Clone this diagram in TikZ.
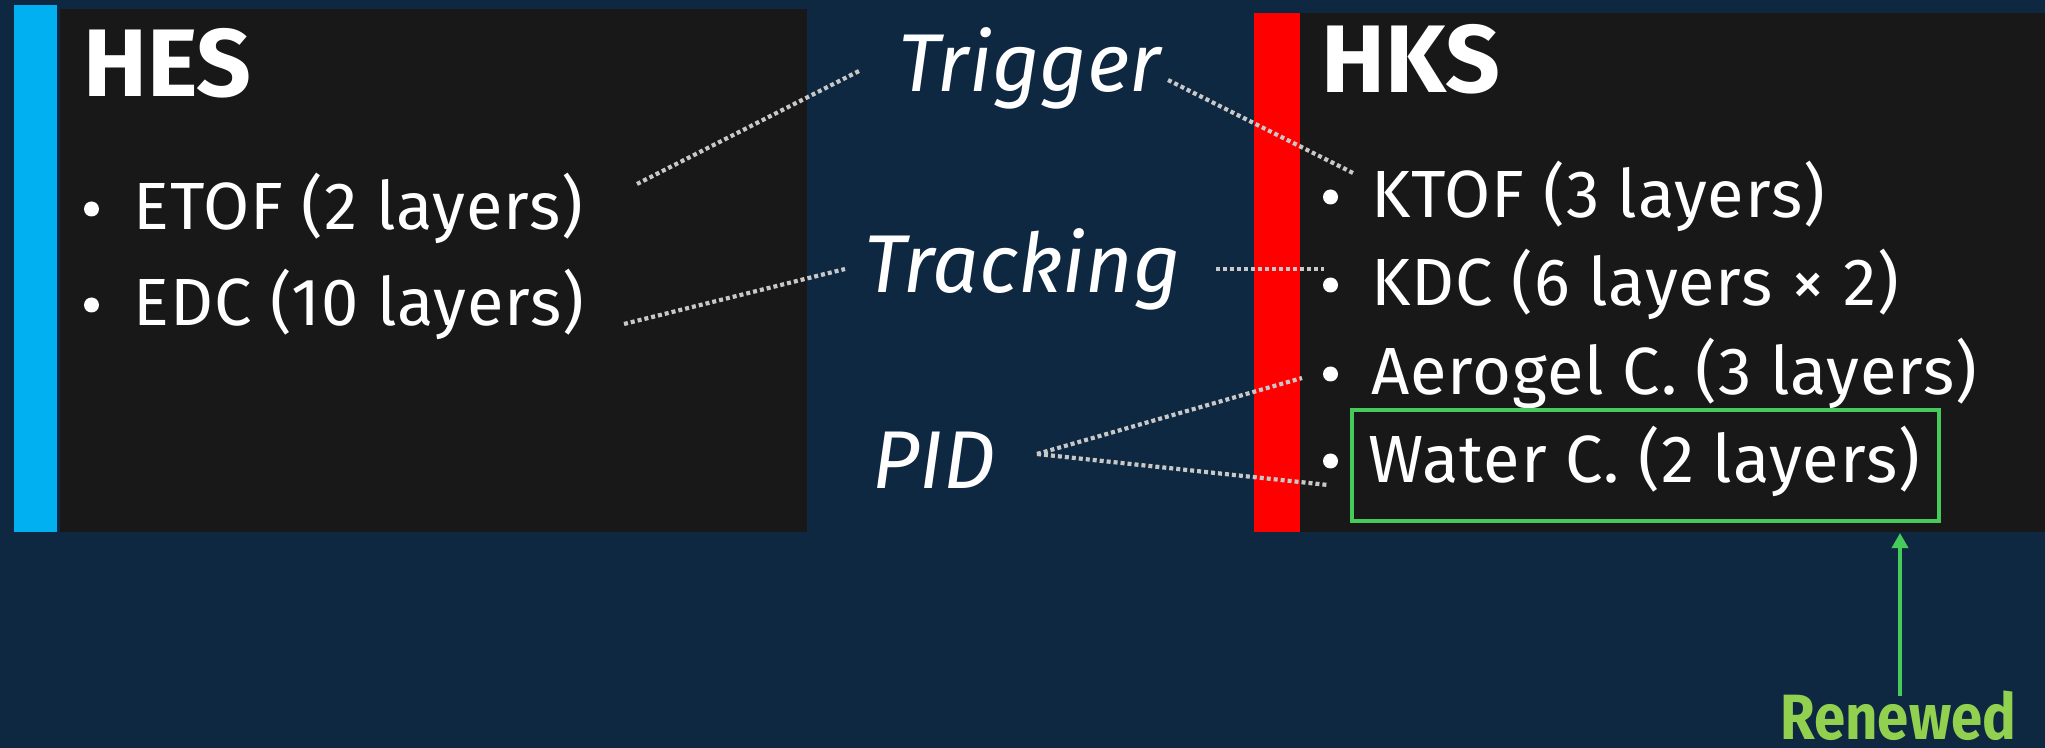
\documentclass[tikz,border=0pt]{standalone}
\usepackage{fontspec}
\setmainfont{Fira Sans}
\newfontfamily\itemfont{Fira Sans}[LetterSpace=1.4]
\newfontfamily\tagfont{Fira Sans}[FakeStretch=0.88]
\usetikzlibrary{arrows.meta}
\definecolor{navy}{HTML}{0E2841}
\definecolor{panelbg}{HTML}{181818}
\definecolor{hesblue}{HTML}{00B0F0}
\definecolor{hksred}{HTML}{FF0000}
\definecolor{newgreen}{HTML}{46CB5B}
\definecolor{renewtext}{HTML}{92D050}
\definecolor{dotgray}{HTML}{C8C8C8}
\begin{document}
\begin{tikzpicture}[x=0.5pt,y=-0.5pt,
  title/.style={anchor=base west, inner sep=0pt, text=white,
    font=\fontsize{48}{48}\selectfont\bfseries},
  item/.style={anchor=base west, inner sep=0pt, text=white,
    font=\itemfont\fontsize{33.4}{40}\selectfont},
  bulletdot/.style={circle, fill=white, inner sep=0pt, minimum size=7.5pt},
  role/.style={anchor=base west, inner sep=0pt, text=white,
    font=\fontsize{41}{48}\selectfont\itshape},
  link/.style={draw=dotgray, line width=2.1pt, dash pattern=on 2pt off 1.5pt},
  newbox/.style={draw=newgreen, line width=2pt, inner sep=0pt},
  newarrow/.style={draw=newgreen, line width=1.75pt,
    -{Triangle[width=8pt,length=7.5pt]}},
]
% canvas
\fill[navy] (0,0) rectangle (2045,748);
\useasboundingbox (0,0) rectangle (2045,748);

% HES panel
\fill[hesblue] (14,5) rectangle (57,532);
\fill[panelbg] (60,9) rectangle (807,532);
% HKS panel
\fill[hksred] (1254,13) rectangle (1300,532);
\fill[panelbg] (1300,13) rectangle (2045,532);

% titles
\node[title] (hes) at (83,97) {HES};
\node[title] (hks) at (1321,93) {HKS};

% HES items
\node[bulletdot] (b1) at (91.5,209) {};
\node[item] (etof) at (133,230) {ETOF (2 layers)};
\node[bulletdot] (b2) at (91.5,305) {};
\node[item] (edc) at (133,326) {EDC (10 layers)};

% HKS items
\node[bulletdot] (b3) at (1330.5,197) {};
\node[item] (ktof) at (1371,218) {KTOF (3 layers)};
\node[bulletdot] (b4) at (1330.5,285) {};
\node[item] (kdc) at (1371,306) {KDC (6 layers × 2)};
\node[bulletdot] (b5) at (1330.5,374) {};
\node[item] (aero) at (1371,395) {Aerogel C. (3 layers)};
\node[bulletdot] (b6) at (1330.5,461) {};
\node[item] (water) at (1368,482) {Water C. (2 layers)};

% roles
\node[role] (trig) at (898,92) {Trigger};
\node[role] (track) at (864,293) {Tracking};
\node[role] (pid) at (872,488) {PID};

% connector ends
\coordinate (etofR) at (637,184);
\coordinate (trigL) at (861,70);
\coordinate (edcR) at (624,324);
\coordinate (trackL) at (845,269);
\coordinate (trigR) at (1168,80);
\coordinate (ktofL) at (1355,174);
\coordinate (trackR) at (1216,269);
\coordinate (kdcL) at (1324,269);
\coordinate (pidR) at (1037,454);
\coordinate (aeroL) at (1302,378);
\coordinate (waterL) at (1328,485);

\draw[link] (etofR) -- (trigL);
\draw[link] (edcR) -- (trackL);
\draw[link] (trigR) -- (ktofL);
\draw[link] (trackR) -- (kdcL);
\draw[link] (pidR) -- (aeroL);
\draw[link] (pidR) -- (waterL);

% renewed detector
\node[newbox, minimum width=293.5pt, minimum height=55.5pt] (wbox) at (1645.5,465.5) {};
\node[anchor=base west, inner sep=0pt, text=renewtext,
  font=\tagfont\fontsize{32}{40}\selectfont\bfseries] (renew) at (1780,739) {Renewed};
\coordinate (arrowfoot) at (1900,696);
\coordinate (arrowtip) at (1900,533);
\draw[newarrow] (arrowfoot) -- (arrowtip);
\end{tikzpicture}
\end{document}
